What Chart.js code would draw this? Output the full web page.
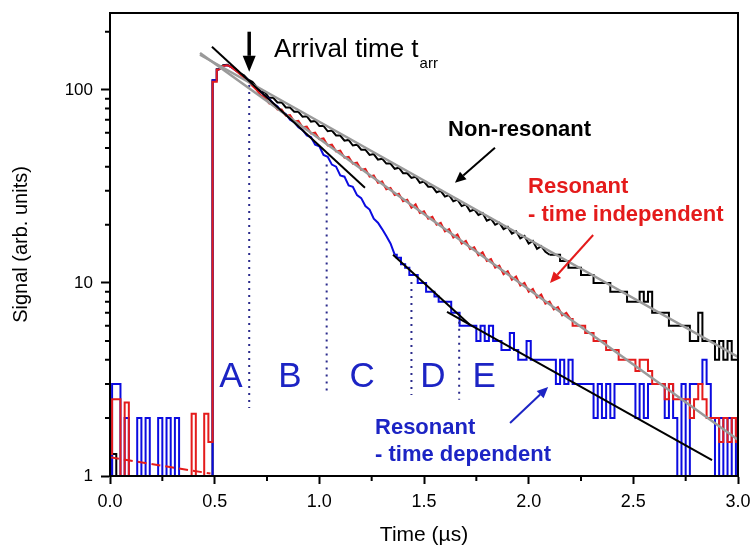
<!DOCTYPE html>
<html>
<head>
<meta charset="utf-8">
<script src="https://cdn.jsdelivr.net/npm/chart.js@4.4.0/dist/chart.umd.min.js"></script>
<style>
  html, body { margin: 0; padding: 0; background: #fff; }
</style>
</head>
<body>
<canvas id="chart" width="753" height="548"></canvas>
<script>
// sampling grid of the traces, 20 ns bins
const TIME = [];
for (let i = 0; i <= 150; i++) TIME.push(+(i * 0.02).toFixed(2));

const NON_RESONANT = [
  1, 1.3, 1, 1, 1, 1, 1, 1, 1, 1, 1, 1, 1, 1, 1, 1, 1, 1, 1, 1, 1, 1, 1, 1, 1,
  112, 128, 134, 135, 131, 128, 122, 119, 113, 110,
  104, 98, 97, 91, 91, 86, 86, 81, 81, 77,
  77, 72.5, 73, 68.5, 69, 65, 65, 61, 61.5, 58,
  58, 54.5, 55, 51.5, 52, 49, 49, 46, 46.5, 43.5,
  44, 41.5, 41.5, 39, 39.5, 37, 37, 35, 35.5, 33,
  33.5, 31.5, 31.5, 29.5, 30, 28, 28.5, 26.5, 27, 25,
  25.5, 23.5, 24, 22.5, 23, 21, 21.5, 20, 20.5, 19,
  19.5, 18, 18.5, 17, 17.5, 16, 16.5, 15, 15.5, 14.5,
  14, 14, 14, 13, 13, 12, 12, 12, 11, 11,
  11, 10, 10, 10, 10, 9, 9, 9, 9, 8,
  8, 8, 9, 8, 9, 7, 7, 7, 7, 6,
  6, 6, 6, 6, 5, 5, 7, 5, 5, 5,
  4, 5, 4, 5, 4, 4
];

const RES_INDEPENDENT = [
  1.3, 2.5, 2.5, 1, 2.4, 1, 1, 1, 1, 1, 1, 1, 1, 1, 1, 1, 1, 1, 1, 1, 2.1, 1, 1, 2.1, 1.5,
  110, 127, 133, 134, 131, 126, 121, 116, 111, 105,
  100, 94, 91, 85, 84, 79, 79, 73.5, 74, 68.5,
  69, 64, 64.5, 59.5, 60, 55.5, 56, 51.5, 52, 48,
  48.5, 44.5, 45, 41.5, 42, 38.5, 39, 35.5, 36, 33,
  33.5, 30.5, 31, 28.5, 29, 26.5, 27, 24.5, 25.5, 23,
  23.5, 21.5, 22, 20, 20.5, 18.5, 19, 17.2, 17.8, 16,
  16.5, 15, 15.3, 13.9, 14.4, 13, 13.3, 12, 12.3, 11.1,
  11.5, 10.4, 10.8, 9.7, 10, 9, 9.3, 8.4, 8.7, 7.8,
  8, 7.3, 7.5, 6.8, 7, 6.5, 6, 6, 6, 5.5,
  5.5, 5, 5, 5, 4.5, 4.5, 4.5, 4, 4, 4,
  4, 3.5, 4, 4, 3.5, 3, 3, 3, 2.5, 3,
  2.5, 2.5, 2.5, 2.5, 2, 2.5, 3, 2.5, 2, 2,
  2, 1.5, 2, 1.5, 2, 1.5
];

const RES_DEPENDENT = [
  1, 3, 3, 1, 2, 1, 1, 2, 1, 2, 1, 1, 2, 1, 2, 1, 2, 1, 1, 1, 1, 1, 1, 1, 1,
  112, 127, 133, 134, 131, 126, 122, 117, 112, 106,
  101, 98, 93, 90, 85, 82, 77, 75, 70, 68,
  64, 62, 58, 57, 52, 51, 46, 45, 41, 40,
  36, 35.5, 32, 31.5, 28.5, 27.5, 25, 24, 21.5, 20.5,
  19, 17.5, 16, 14, 13.5, 12.5, 12, 11, 11, 10,
  10, 9, 9, 8.5, 8, 8, 8, 7, 7, 6,
  6, 6, 6, 5, 6, 5, 6, 5, 5, 4.5,
  4.5, 5.5, 4.5, 4, 4, 5, 4, 4, 4, 4,
  4, 4, 3, 4, 3, 4, 3, 3, 3, 3,
  3, 2, 3, 2, 3, 2, 3, 3, 3, 3,
  3, 2, 3, 2, 3, 3, 3, 3, 2, 3,
  2, 1, 3, 1, 3, 3, 3, 4, 3, 2,
  1, 2, 1, 2, 1, 2
];

// where each trace stops being a smooth decay and turns into counting steps
// [end of rise, end of smooth part] as sample indices
const SMOOTH_NON_RES = [26, 105];
const SMOOTH_RES_IND = [26, 110];
const SMOOTH_RES_DEP = [26, 68];

// exponential fits, end points as [time, signal]
const FIT_NON_RES = [[0.43, 152], [3.0, 4.14]];
const FIT_RES_IND = [[0.43, 155], [3.0, 1.54]];
const FIT_B = [[0.487, 167], [1.218, 31.1]];
const FIT_D = [[1.352, 14.0], [1.72, 6.06]];
const FIT_E = [[1.61, 7.07], [2.876, 1.21]];
const BASE_RES = [[0, 1.25], [0.48, 1.03]];

// region borders
const REGION_T = [0.665, 1.035, 1.44, 1.668];
const REGION_TOP = [106, 41, 10.1, 6.3];
const REGION_BOTTOM = [2.25, 2.63, 2.63, 2.48];
const REGION_LABELS = ['A', 'B', 'C', 'D', 'E'];
const REGION_LABEL_T = [0.578, 0.86, 1.204, 1.543, 1.787];

const X_TICKS = [0, 0.5, 1, 1.5, 2, 2.5, 3];
const X_MINOR = [0.25, 0.75, 1.25, 1.75, 2.25, 2.75];
const Y_TICKS = [1, 10, 100];
const Y_MINOR = [2, 3, 4, 5, 6, 7, 8, 9, 20, 30, 40, 50, 60, 70, 80, 90, 200];

const RED = '#e41b1b';
const BLUE = '#0b0be0';
const TEXT_BLUE = '#1c24c4';
const GRAY = '#9a9a9a';
const NAVY = '#2b2b8c';

const series = vals => vals.map((y, i) => ({ x: TIME[i], y }));
const pts = arr => arr.map(([x, y]) => ({ x, y }));

function line(data, color, width, extra) {
    return Object.assign({
        data: data,
        borderColor: color,
        borderWidth: width,
        pointRadius: 0,
        fill: false,
        tension: 0
    }, extra || {});
}

// one trace = stepped baseline and rise, plain decay, stepped tail
function trace(vals, split, color) {
    const all = series(vals);
    return [
        line(all.slice(0, split[0] + 1), color, 2, { stepped: 'middle' }),
        line(all.slice(split[0], split[1] + 1), color, 2),
        line(all.slice(split[1]), color, 2, { stepped: 'middle' })
    ];
}

const regionLines = REGION_T.map((t, i) =>
    line(pts([[t, REGION_TOP[i]], [t, REGION_BOTTOM[i]]]), NAVY, 2, { borderDash: [2, 5] }));

function arrow(ctx, x1, y1, x2, y2, color, width, head, half) {
    const a = Math.atan2(y2 - y1, x2 - x1);
    const bx = x2 - head * Math.cos(a);
    const by = y2 - head * Math.sin(a);
    ctx.strokeStyle = color;
    ctx.lineWidth = width;
    ctx.beginPath();
    ctx.moveTo(x1, y1);
    ctx.lineTo(bx, by);
    ctx.stroke();
    ctx.fillStyle = color;
    ctx.beginPath();
    ctx.moveTo(x2, y2);
    ctx.lineTo(bx + half * Math.sin(a), by - half * Math.cos(a));
    ctx.lineTo(bx - half * Math.sin(a), by + half * Math.cos(a));
    ctx.closePath();
    ctx.fill();
}

const FONT = "'Liberation Sans', Arial, sans-serif";

const decorations = {
    id: 'decorations',
    afterDatasetsDraw(chart) {
        const ctx = chart.ctx;
        const xs = chart.scales.x, ys = chart.scales.y;
        const area = chart.chartArea;
        const px = t => xs.getPixelForValue(t);
        const py = v => ys.getPixelForValue(v);
        ctx.save();

        // frame
        ctx.strokeStyle = '#000';
        ctx.lineWidth = 2;
        ctx.strokeRect(area.left, area.top, area.right - area.left, area.bottom - area.top);

        // minor ticks
        ctx.beginPath();
        Y_MINOR.forEach(v => { ctx.moveTo(area.left - 5, py(v)); ctx.lineTo(area.left, py(v)); });
        X_MINOR.forEach(t => { ctx.moveTo(px(t), area.bottom); ctx.lineTo(px(t), area.bottom + 5); });
        ctx.stroke();

        // region letters
        ctx.fillStyle = TEXT_BLUE;
        ctx.font = '35px ' + FONT;
        ctx.textAlign = 'center';
        ctx.textBaseline = 'middle';
        REGION_LABELS.forEach((s, i) => ctx.fillText(s, px(REGION_LABEL_T[i]), py(3.26)));

        // arrival time
        ctx.textAlign = 'left';
        ctx.textBaseline = 'alphabetic';
        ctx.fillStyle = '#000';
        ctx.font = '26px ' + FONT;
        const main = 'Arrival time t';
        ctx.fillText(main, px(0.784), py(148));
        const w = ctx.measureText(main).width;
        ctx.font = '15px ' + FONT;
        ctx.fillText('arr', px(0.784) + w + 1, py(148) + 11);
        arrow(ctx, px(0.665), py(200), px(0.665), py(124), '#000', 3.5, 16, 6.5);

        // series notes
        ctx.textBaseline = 'middle';
        ctx.font = 'bold 22px ' + FONT;
        ctx.fillStyle = '#000';
        ctx.fillText('Non-resonant', px(1.615), py(62.1));
        arrow(ctx, px(1.839), py(50.1), px(1.648), py(33.0), '#000', 2, 11, 5);

        ctx.fillStyle = RED;
        ctx.fillText('Resonant', px(1.997), py(31.4));
        ctx.fillText('- time independent', px(1.997), py(22.5));
        arrow(ctx, px(2.308), py(17.7), px(2.102), py(10.0), RED, 2, 11, 5);

        ctx.fillStyle = TEXT_BLUE;
        ctx.fillText('Resonant', px(1.266), py(1.77));
        ctx.fillText('- time dependent', px(1.266), py(1.28));
        arrow(ctx, px(1.911), py(1.88), px(2.093), py(2.89), TEXT_BLUE, 2, 11, 5);

        ctx.restore();
    }
};

Chart.defaults.font.family = FONT;
Chart.defaults.color = '#000';

new Chart(document.getElementById('chart'), {
    type: 'line',
    data: {
        datasets: [
            line(pts(FIT_B), '#000', 2),
            line(pts(FIT_D), '#000', 2),
            line(pts(FIT_E), '#000', 2),
            line(pts(FIT_NON_RES), GRAY, 2.5),
            line(pts(FIT_RES_IND), GRAY, 2.5),
            ...regionLines,
            line(pts(BASE_RES), RED, 2, { borderDash: [9, 5] }),
            ...trace(RES_INDEPENDENT, SMOOTH_RES_IND, RED),
            ...trace(RES_DEPENDENT, SMOOTH_RES_DEP, BLUE),
            ...trace(NON_RESONANT, SMOOTH_NON_RES, '#000')
        ]
    },
    options: {
        responsive: false,
        animation: false,
        layout: { padding: { top: 13, right: 15, left: 0, bottom: 0 } },
        plugins: {
            legend: { display: false },
            tooltip: { enabled: false }
        },
        scales: {
            x: {
                type: 'linear',
                min: 0,
                max: 3,
                afterBuildTicks: s => { s.ticks = X_TICKS.map(v => ({ value: v })); },
                afterFit: s => { s.height = 72; s.paddingLeft = 0; s.paddingRight = 0; },
                ticks: { callback: v => v.toFixed(1), font: { size: 18 }, padding: 7, maxRotation: 0, autoSkip: false },
                grid: { drawOnChartArea: false, tickLength: 8, tickWidth: 2, tickColor: '#000' },
                border: { color: '#000', width: 2 },
                title: { display: true, text: 'Time (µs)', font: { size: 21 }, padding: 0 }
            },
            y: {
                type: 'logarithmic',
                min: 1,
                max: 250,
                afterBuildTicks: s => { s.ticks = Y_TICKS.map(v => ({ value: v })); },
                afterFit: s => { s.width = 110; s.paddingTop = 0; s.paddingBottom = 0; },
                ticks: { callback: v => String(v), font: { size: 17 }, padding: 8, autoSkip: false },
                grid: { drawOnChartArea: false, tickLength: 9, tickWidth: 2, tickColor: '#000' },
                border: { color: '#000', width: 2 },
                title: { display: true, text: 'Signal (arb. units)', font: { size: 20 }, padding: { top: 9, bottom: 0 } }
            }
        }
    },
    plugins: [decorations]
});
</script>
</body>
</html>
